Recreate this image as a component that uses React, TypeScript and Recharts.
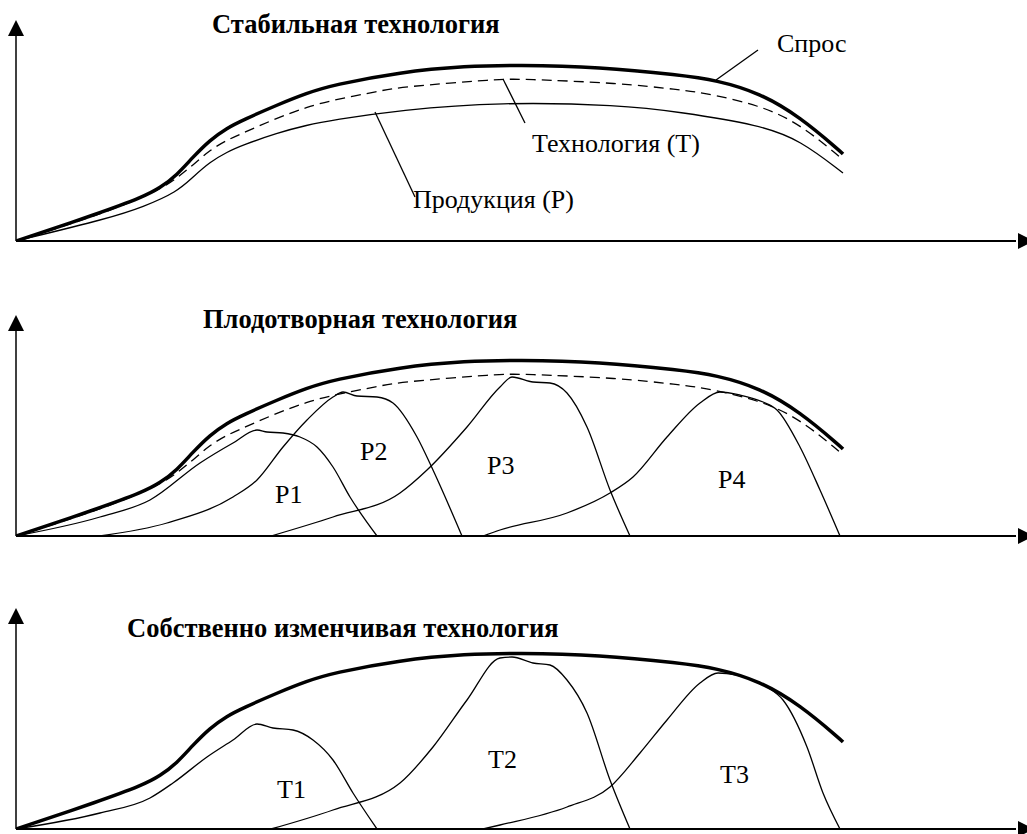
import React from "react";
import { LineChart, Line, XAxis, YAxis, ReferenceDot, ReferenceLine } from "recharts";

// x = time (0..1000), y = volume (0..220)
const demand = [
  [0, 0], [84, 28], [127, 44], [144, 53], [161, 66], [177, 84], [194, 101], [211, 113],
  [227, 121], [261, 136], [291, 148], [317, 156], [384, 169], [451, 175], [500, 176],
  [584, 174], [664, 166], [700, 161], [744, 148], [784, 124], [824, 90], [827, 87],
];
const technology = [
  [0, 0], [84, 26], [144, 51], [161, 63], [177, 76], [194, 91], [211, 101], [227, 108],
  [261, 123], [291, 134], [317, 141], [364, 150], [384, 154], [484, 162], [504, 162],
  [604, 158], [664, 151], [684, 149], [744, 136], [784, 117], [824, 84], [827, 81],
];
const production = [
  [0, 0], [94, 23], [127, 34], [161, 49], [177, 64], [194, 79], [211, 89], [227, 96],
  [261, 108], [291, 116], [317, 121], [384, 131], [484, 139], [604, 136], [664, 129],
  [744, 116], [784, 101], [827, 68],
];

const p1 = [[0, 0], [84, 19], [134, 36], [184, 73], [217, 93], [241, 106], [251, 104], [267, 103], [284, 99], [301, 89], [317, 69], [334, 39], [361, 0]];
const p2 = [[84, 0], [151, 13], [217, 39], [241, 56], [267, 89], [291, 116], [317, 139], [327, 144], [341, 140], [361, 139], [377, 133], [401, 99], [417, 66], [446, 0]];
const p3 = [[255, 0], [317, 19], [384, 43], [411, 66], [451, 109], [484, 149], [496, 159], [517, 154], [534, 153], [551, 143], [571, 109], [594, 46], [614, 0]];
const p4 = [[467, 0], [484, 6], [551, 23], [594, 43], [617, 59], [651, 99], [684, 133], [704, 144], [724, 141], [747, 134], [761, 126], [784, 89], [804, 46], [824, 0]];

const t1 = [[0, 0], [84, 16], [134, 31], [157, 46], [191, 72], [217, 89], [241, 105], [257, 101], [277, 99], [297, 89], [317, 69], [337, 36], [361, 0]];
const t2 = [[255, 0], [317, 19], [384, 46], [417, 82], [451, 129], [484, 171], [496, 172], [517, 166], [534, 164], [551, 149], [571, 116], [594, 49], [614, 0]];
const t3 = [[467, 0], [484, 4], [551, 22], [594, 42], [624, 76], [651, 109], [684, 146], [702, 156], [737, 149], [751, 142], [767, 129], [791, 82], [807, 36], [824, 0]];

const titles = ["Стабильная технология", "Плодотворная технология", "Собственно изменчивая технология"];

const FONT = '"Liberation Serif", "Times New Roman", serif';
const W = 1027;
const H = 260;

type Pt = number[];
type Series = { pts: Pt[]; width: number; dash?: string; smooth?: boolean };
type Txt = { x: number; y: number; text: string; bold?: boolean };
type Seg = [number, number, number, number];

const toRows = (pts: Pt[]) => pts.map(([x, y]) => ({ x, y }));

function Panel({ top, series, texts, leaders }: { top: number; series: Series[]; texts: Txt[]; leaders: Seg[] }) {
  return (
    <div style={{ position: "absolute", left: 0, top }}>
      <LineChart width={W} height={H} margin={{ top: 21, right: 11, bottom: 19, left: 16 }}>
        <XAxis type="number" dataKey="x" domain={[0, 1000]} hide allowDataOverflow />
        <YAxis type="number" domain={[0, 220]} hide allowDataOverflow />
        {/* axes */}
        <ReferenceLine segment={[{ x: 0, y: 0 }, { x: 1000, y: 0 }]} stroke="#000" strokeWidth={2} ifOverflow="visible" />
        <ReferenceLine segment={[{ x: 0, y: 0 }, { x: 0, y: 210 }]} stroke="#000" strokeWidth={1.5} ifOverflow="visible" />
        {series.map((s, i) => (
          <Line key={i} data={toRows(s.pts)} dataKey="y" type={s.smooth ? "basis" : "monotone"} dot={false} activeDot={false}
            stroke="#000" strokeWidth={s.width} strokeDasharray={s.dash} isAnimationActive={false} />
        ))}
        {leaders.map((l, i) => (
          <ReferenceLine key={"l" + i} segment={[{ x: l[0], y: l[1] }, { x: l[2], y: l[3] }]}
            stroke="#000" strokeWidth={1.3} ifOverflow="visible" />
        ))}
        {texts.map((t, i) => (
          <ReferenceDot key={"t" + i} x={t.x} y={t.y} ifOverflow="visible"
            shape={(p: any) => (
              <text x={p.cx} y={p.cy} fontFamily={FONT} fontSize={t.bold ? 26.5 : 26}
                fontWeight={t.bold ? "bold" : "normal"} fill="#000">{t.text}</text>
            )} />
        ))}
        <ReferenceDot x={1000} y={0} ifOverflow="visible"
          shape={(p: any) => <polygon points={`${p.cx + 2},${p.cy - 8} ${p.cx + 18},${p.cy} ${p.cx + 2},${p.cy + 8}`} fill="#000" />} />
        <ReferenceDot x={0} y={220} ifOverflow="visible"
          shape={(p: any) => <polygon points={`${p.cx - 8},${p.cy + 15} ${p.cx},${p.cy - 1} ${p.cx + 8},${p.cy + 15}`} fill="#000" />} />
      </LineChart>
    </div>
  );
}

export default function App() {
  return (
    <div style={{ position: "absolute", left: 0, top: 0, width: W, height: 834, overflow: "hidden", background: "#fff" }}>
      <Panel
        top={0}
        series={[
          { pts: production, width: 1.3, smooth: true },
          { pts: technology, width: 1.3, dash: "10 6", smooth: true },
          { pts: demand, width: 3.5, smooth: true },
        ]}
        texts={[
          { x: 196, y: 208, text: titles[0], bold: true },
          { x: 761, y: 189, text: "Спрос" },
          { x: 516, y: 89, text: "Технология (Т)" },
          { x: 397, y: 33, text: "Продукция (Р)" },
        ]}
        leaders={[
          [700, 161, 742, 191],
          [487, 162, 509, 118],
          [359, 129, 399, 44],
        ]}
      />
      <Panel
        top={295}
        series={[
          { pts: p1, width: 1.3 },
          { pts: p2, width: 1.3 },
          { pts: p3, width: 1.3 },
          { pts: p4, width: 1.3 },
          { pts: technology, width: 1.3, dash: "10 6", smooth: true },
          { pts: demand, width: 3.5, smooth: true },
        ]}
        texts={[
          { x: 187, y: 208, text: titles[1], bold: true },
          { x: 259, y: 33, text: "Р1" },
          { x: 344, y: 76, text: "Р2" },
          { x: 471, y: 62, text: "Р3" },
          { x: 702, y: 48, text: "Р4" },
        ]}
        leaders={[]}
      />
      <Panel
        top={588}
        series={[
          { pts: t1, width: 1.3 },
          { pts: t2, width: 1.3 },
          { pts: t3, width: 1.3 },
          { pts: demand, width: 3.5, smooth: true },
        ]}
        texts={[
          { x: 111, y: 192, text: titles[2], bold: true },
          { x: 261, y: 31, text: "Т1" },
          { x: 472, y: 61, text: "Т2" },
          { x: 704, y: 46, text: "Т3" },
        ]}
        leaders={[]}
      />
    </div>
  );
}
